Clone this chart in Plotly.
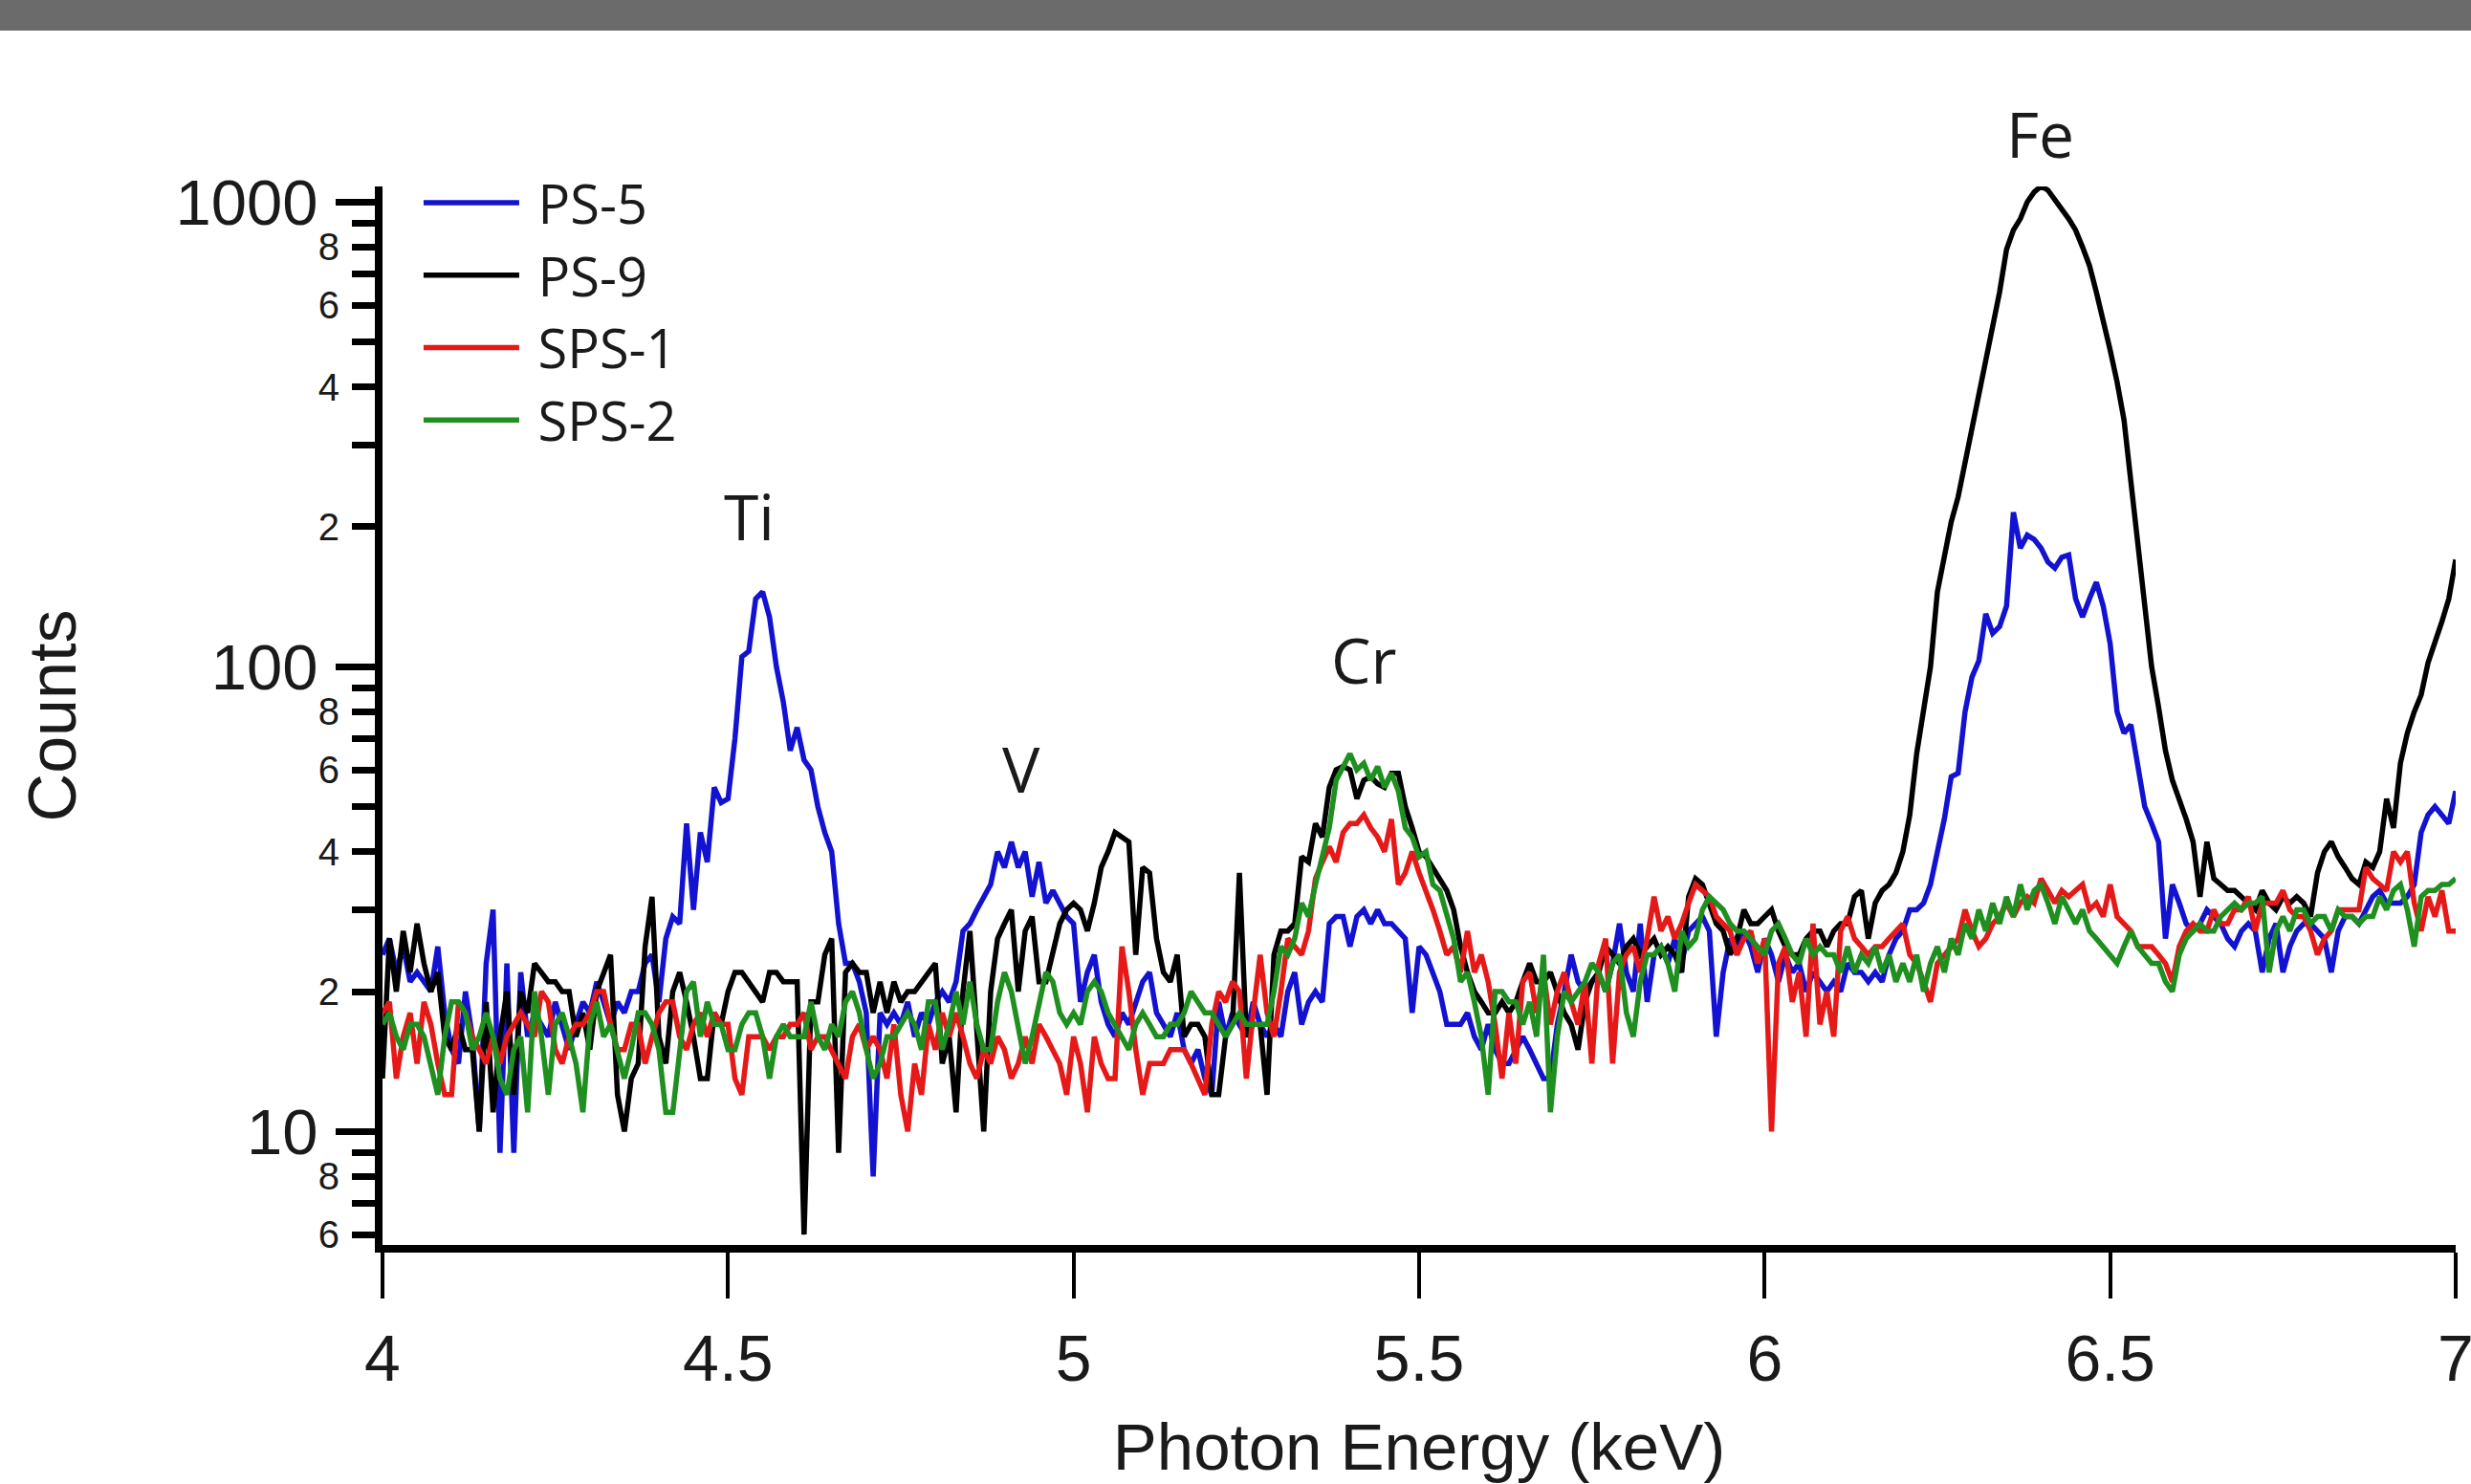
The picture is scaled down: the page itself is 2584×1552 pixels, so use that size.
import numpy as np
import plotly.graph_objects as go

# Photon energy grid (keV), 10 eV steps from 4.00 to 7.00
energy = [round(4.0 + 0.01 * i, 2) for i in range(301)]

ps5 = [
    24, 26, 22, 25, 21, 22, 21, 20, 25, 18,
    15, 14, 20, 16, 10, 23, 30, 9, 23, 9,
    22, 16, 18, 17, 16, 19, 17, 15, 17, 19,
    18, 21, 19, 17, 19, 18, 20, 20, 23, 24,
    19, 26, 29, 28, 46, 30, 44, 38, 55, 51,
    52, 70, 105, 108, 140, 145, 128, 100, 84, 66,
    74, 63, 60, 50, 44, 40, 28, 23, 23, 21,
    18, 8, 18, 17, 18, 17, 19, 16, 18, 17,
    19, 20, 19, 21, 27, 28, 30, 32, 34, 40,
    37, 42, 37, 40, 32, 38, 31, 33, 31, 29,
    28, 19, 22, 24, 19, 17, 16, 18, 17, 19,
    21, 22, 18, 17, 16, 18, 15, 14, 15, 13,
    12, 19, 16, 18, 17, 16, 19, 17, 16, 17,
    16, 20, 22, 17, 19, 20, 19, 28, 29, 29,
    25, 29, 30, 28, 30, 28, 28, 27, 26, 18,
    25, 24, 22, 20, 17, 17, 17, 18, 16, 15,
    17, 15, 14, 14, 15, 16, 15, 14, 13, 13,
    17, 20, 24, 21, 20, 21, 22, 20, 23, 28,
    22, 20, 28, 19, 24, 25, 23, 26, 23, 27,
    28, 29, 27, 16, 22, 26, 24, 27, 25, 22,
    26, 24, 21, 24, 22, 23, 20, 22, 21, 20,
    21, 20, 23, 22, 22, 21, 22, 21, 24, 26,
    27, 30, 30, 31, 34, 40, 47, 58, 59, 80,
    95, 103, 130, 118, 122, 135, 215, 180, 192, 188,
    180, 168, 163, 172, 174, 140, 128, 140, 152, 135,
    112, 80, 72, 75, 62, 50, 46, 42, 26, 34,
    31, 28, 27, 28, 30, 29, 28, 26, 25, 27,
    28, 27, 22, 26, 28, 22, 25, 27, 28, 28,
    27, 26, 22, 27, 29, 29, 28, 30, 32, 33,
    31, 31, 31, 32, 34, 44, 48, 50, 48, 46,
    54,
]

ps9 = [
    13, 26, 20, 27, 22, 28, 23, 20, 22, 16,
    15, 17, 15, 15, 10, 19, 11, 16, 20, 12,
    20, 18, 23, 22, 21, 21, 20, 20, 16, 18,
    15, 20, 22, 24, 12, 10, 13, 14, 25, 32,
    16, 14, 20, 22, 19, 16, 13, 13, 18, 17,
    20, 22, 22, 21, 20, 19, 22, 22, 21, 21,
    21, 6, 19, 19, 24, 26, 9, 22, 23, 22,
    22, 18, 21, 18, 21, 19, 20, 20, 21, 22,
    23, 14, 16, 11, 20, 27, 17, 10, 20, 26,
    28, 30, 20, 27, 29, 21, 21, 24, 28, 30,
    31, 30, 27, 31, 37, 40, 44, 43, 42, 24,
    37, 36, 26, 22, 21, 24, 16, 17, 17, 16,
    12, 12, 16, 17, 36, 16, 17, 17, 12, 24,
    27, 27, 28, 39, 38, 46, 43, 55, 60, 61,
    60, 52, 57, 58, 56, 55, 59, 59, 50, 45,
    40, 39, 37, 35, 33, 30, 25, 22, 20, 19,
    18, 18, 19, 18, 19, 21, 23, 21, 21, 22,
    20, 18, 17, 15, 19, 21, 22, 25, 24, 23,
    25, 26, 24, 25, 26, 24, 25, 24, 22, 32,
    35, 34, 31, 28, 27, 24, 26, 30, 28, 28,
    29, 30, 27, 25, 24, 24, 26, 27, 27, 25,
    27, 28, 28, 32, 33, 26, 31, 33, 34, 36,
    40, 48, 65, 80, 100, 145, 175, 205, 232, 275,
    325, 385, 460, 545, 640, 790, 870, 920, 1000, 1050,
    1082, 1060, 1015, 965, 920, 870, 800, 730, 640, 560,
    480, 410, 340, 250, 185, 140, 100, 82, 66, 57,
    52, 47, 42, 32, 42, 35, 34, 33, 33, 32,
    31, 30, 33, 31, 30, 32, 31, 32, 31, 29,
    36, 40, 42, 39, 37, 35, 34, 38, 37, 40,
    52, 45, 62, 72, 80, 87, 102, 112, 125, 140,
    170,
]

sps1 = [
    18, 19, 13, 16, 18, 14, 19, 17, 14, 12,
    12, 19, 18, 16, 15, 14, 16, 14, 16, 17,
    18, 17, 16, 20, 19, 15, 14, 16, 17, 17,
    18, 20, 20, 17, 15, 15, 17, 17, 14, 16,
    18, 19, 19, 16, 15, 17, 18, 16, 18, 17,
    17, 13, 12, 16, 16, 16, 15, 16, 16, 17,
    17, 18, 15, 16, 16, 15, 14, 13, 16, 17,
    15, 16, 15, 13, 17, 12, 10, 14, 12, 17,
    15, 18, 16, 18, 16, 14, 13, 15, 14, 16,
    15, 13, 14, 16, 14, 17, 16, 15, 14, 12,
    16, 14, 11, 16, 14, 13, 13, 25, 20, 15,
    12, 14, 14, 14, 15, 15, 15, 14, 13, 12,
    17, 20, 19, 21, 20, 13, 18, 24, 18, 16,
    20, 26, 25, 24, 27, 35, 38, 41, 38, 44,
    46, 46, 48, 45, 43, 40, 47, 34, 36, 40,
    36, 33, 30, 27, 24, 25, 22, 27, 22, 24,
    21, 17, 13, 18, 14, 21, 22, 18, 22, 17,
    20, 22, 19, 17, 21, 14, 23, 26, 14, 22,
    24, 25, 22, 26, 32, 27, 29, 26, 28, 31,
    34, 33, 32, 29, 28, 27, 24, 26, 27, 23,
    26, 10, 23, 25, 19, 22, 16, 28, 17, 20,
    16, 27, 29, 26, 25, 24, 25, 25, 26, 27,
    28, 24, 23, 21, 19, 23, 24, 25, 26, 30,
    27, 25, 26, 28, 29, 31, 29, 31, 32, 31,
    35, 33, 31, 33, 32, 33, 34, 30, 31, 29,
    34, 29, 28, 27, 25, 25, 25, 24, 23, 21,
    25, 27, 28, 27, 27, 30, 28, 28, 30, 30,
    32, 27, 31, 31, 31, 33, 30, 29, 29, 27,
    24, 26, 27, 30, 30, 30, 30, 37, 35, 34,
    33, 40, 38, 40, 31, 27, 32, 29, 33, 27,
    27,
]

sps2 = [
    17, 18, 16, 15, 17, 17, 16, 14, 12, 16,
    19, 19, 18, 15, 16, 18, 16, 13, 12, 15,
    16, 11, 20, 16, 12, 17, 18, 16, 14, 11,
    17, 19, 16, 17, 15, 13, 15, 18, 18, 17,
    15, 11, 11, 15, 20, 21, 16, 19, 17, 17,
    15, 15, 17, 18, 18, 16, 13, 16, 17, 16,
    16, 16, 19, 16, 15, 17, 16, 19, 20, 18,
    15, 13, 14, 16, 16, 17, 18, 17, 15, 19,
    19, 15, 17, 20, 17, 21, 17, 15, 15, 19,
    22, 20, 17, 14, 16, 19, 22, 21, 18, 17,
    18, 17, 20, 21, 20, 18, 17, 16, 15, 17,
    18, 17, 16, 16, 17, 17, 18, 20, 19, 18,
    18, 17, 16, 17, 18, 17, 17, 17, 17, 20,
    25, 24, 26, 31, 29, 34, 39, 45, 57, 61,
    65, 60, 62, 57, 61, 55, 59, 54, 45, 43,
    39, 40, 34, 33, 29, 26, 21, 22, 19, 16,
    12, 20, 20, 19, 19, 17, 19, 16, 24, 11,
    16, 20, 19, 20, 21, 23, 22, 20, 23, 24,
    18, 16, 21, 24, 24, 25, 23, 20, 27, 25,
    26, 30, 32, 31, 30, 28, 27, 27, 26, 25,
    24, 27, 28, 26, 24, 23, 26, 24, 25, 24,
    24, 22, 25, 22, 24, 23, 25, 22, 24, 21,
    23, 21, 24, 20, 23, 25, 22, 26, 24, 28,
    26, 30, 27, 31, 28, 32, 29, 34, 30, 33,
    34, 31, 28, 32, 30, 28, 30, 27, 26, 25,
    24, 23, 25, 27, 25, 24, 23, 23, 21, 20,
    24, 26, 27, 28, 27, 27, 29, 30, 31, 30,
    31, 31, 32, 22, 27, 29, 27, 30, 30, 28,
    29, 29, 27, 30, 29, 29, 28, 29, 29, 32,
    30, 33, 34, 30, 25, 32, 33, 33, 34, 34,
    35,
]

series_names = ["PS-5", "PS-9", "SPS-1", "SPS-2"]
series_colors = ["#1212d0", "#000000", "#e61919", "#1f8f1f"]
series_values = [ps5, ps9, sps1, sps2]

x_tickvals = [4, 4.5, 5, 5.5, 6, 6.5, 7]
x_ticktext = ["4", "4.5", "5", "5.5", "6", "6.5", "7"]
y_major_vals = [10, 100, 1000]
y_major_text = ["10", "100", "1000"]
y_minor_label_vals = [6, 8, 20, 40, 60, 80, 200, 400, 600, 800]
y_minor_label_text = ["6", "8", "2", "4", "6", "8", "2", "4", "6", "8"]
y_minor_plain_vals = [7, 9, 30, 50, 70, 90, 300, 500, 700, 900]

peak_labels = ["Ti", "V", "Cr"]
peak_x = [4.531, 4.924, 5.421]
peak_y = [212, 60.6, 104]
fe_label_x = 6.399

y_range = [np.log10(5.7), np.log10(1080)]

TICK_FONT = "Liberation Sans, Arial, sans-serif"
LABEL_FONT = "Open Sans, Noto Sans, sans-serif"

fig = go.Figure()
for name, color, vals in zip(series_names, series_colors, series_values):
    fig.add_trace(go.Scatter(
        x=energy, y=vals, mode="lines", name="\u00a0" + name,
        line=dict(color=color, width=5.5),
    ))

# helper trace so the overlaid axis (long major ticks + big labels) is drawn
fig.add_trace(go.Scatter(x=[None], y=[None], yaxis="y2", showlegend=False,
                         hoverinfo="skip", mode="lines"))

annotations = []
for t, xv, yv in zip(peak_labels, peak_x, peak_y):
    annotations.append(dict(
        x=xv, y=np.log10(yv), xref="x", yref="y", text=t, showarrow=False,
        xanchor="center", yanchor="middle",
        font=dict(family=LABEL_FONT, size=66, color="#1a1a1a"),
    ))
annotations.append(dict(
    x=fe_label_x, y=1.051, xref="x", yref="paper", text="Fe", showarrow=False,
    xanchor="center", yanchor="middle",
    font=dict(family=LABEL_FONT, size=66, color="#1a1a1a"),
))

fig.update_layout(
    width=2584, height=1552,
    margin=dict(l=400, r=16, t=195, b=250, autoexpand=False),
    paper_bgcolor="white", plot_bgcolor="white",
    showlegend=True,
    legend=dict(
        x=0.0175, y=1.0235, xanchor="left", yanchor="top",
        font=dict(family=LABEL_FONT, size=56, color="#1a1a1a"),
        bgcolor="rgba(0,0,0,0)", itemwidth=100, tracegroupgap=0,
    ),
    xaxis=dict(
        range=[4, 7], tickmode="array", tickvals=x_tickvals, ticktext=x_ticktext,
        ticks="outside", ticklen=48, tickwidth=4, tickcolor="black",
        showline=True, linewidth=8, linecolor="black",
        showgrid=False, zeroline=False, automargin=False,
        tickfont=dict(family=TICK_FONT, size=68, color="#1a1a1a"),
        ticklabelstandoff=4, ticklabeloverflow="allow",
        title=dict(text="Photon Energy (keV)",
                   font=dict(family=TICK_FONT, size=69, color="#1a1a1a"),
                   standoff=38),
    ),
    yaxis=dict(
        type="log", range=y_range, automargin=False,
        tickmode="array", tickvals=y_minor_label_vals, ticktext=y_minor_label_text,
        ticks="outside", ticklen=24, tickwidth=7, tickcolor="black",
        tickfont=dict(family=TICK_FONT, size=40, color="#1a1a1a"),
        ticklabelstandoff=5,
        minor=dict(tickmode="array", tickvals=y_minor_plain_vals,
                   ticks="outside", ticklen=24, tickwidth=7, tickcolor="black"),
        showline=True, linewidth=8, linecolor="black",
        showgrid=False, zeroline=False,
        title=dict(text="Counts",
                   font=dict(family=TICK_FONT, size=70, color="#1a1a1a"),
                   standoff=233),
    ),
    yaxis2=dict(
        type="log", range=y_range, overlaying="y", side="left", anchor="x",
        automargin=False,
        tickmode="array", tickvals=y_major_vals, ticktext=y_major_text,
        ticks="outside", ticklen=48, tickwidth=7, tickcolor="black",
        tickfont=dict(family=TICK_FONT, size=67, color="#1a1a1a"),
        ticklabelstandoff=5,
        showline=False, showgrid=False, zeroline=False,
    ),
    annotations=annotations,
    shapes=[dict(type="rect", xref="paper", yref="paper",
                 x0=-0.25, x1=1.05, y0=(1302 - 32) / 1107, y1=1.25,
                 fillcolor="#6b6b6b", line=dict(width=0), layer="above")],
)

fig.write_html("out.html", config={"displayModeBar": False},
               post_script="document.body.style.margin='0';")
